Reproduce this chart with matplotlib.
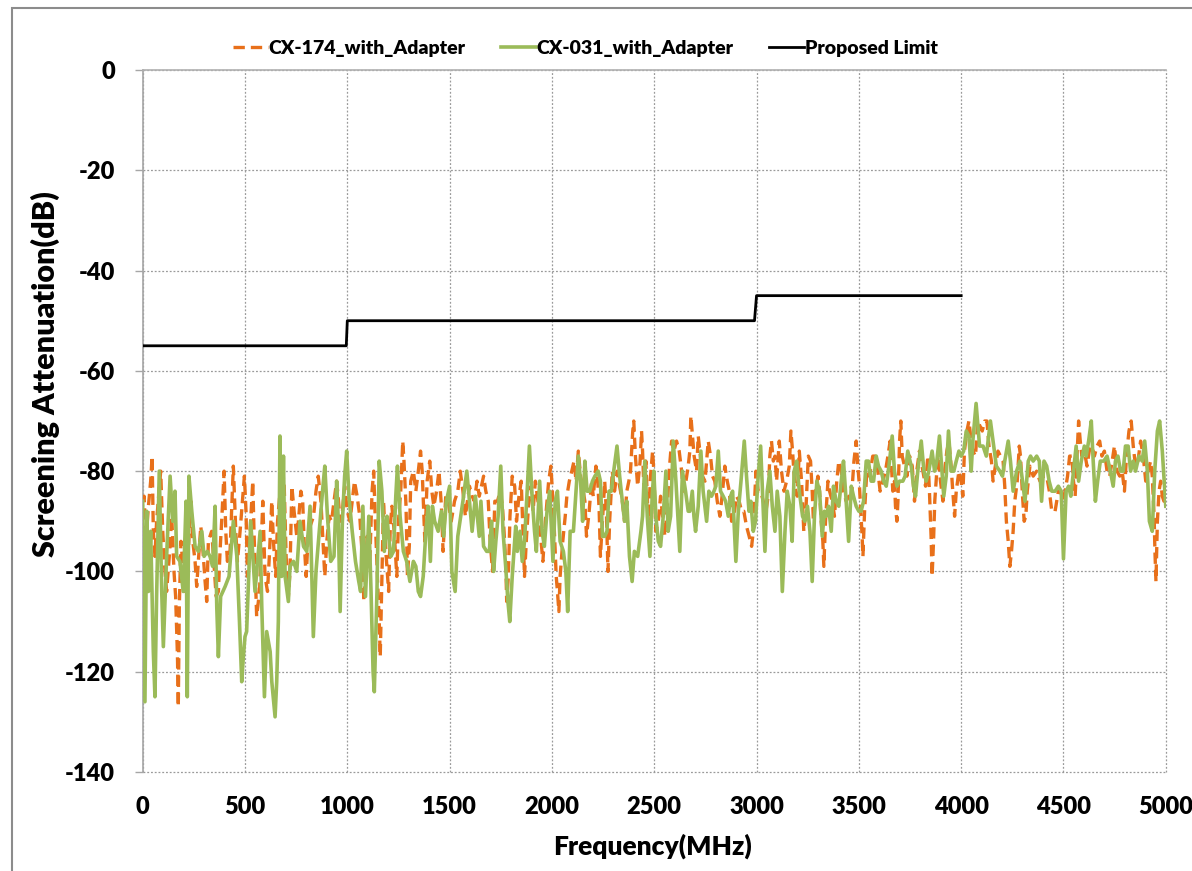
import matplotlib
matplotlib.use("Agg")
import matplotlib.pyplot as plt
from matplotlib.patches import Rectangle

plt.rcParams['font.family'] = ['Lato', 'DejaVu Sans']
plt.rcParams['font.weight'] = 'bold'
plt.rcParams['axes.unicode_minus'] = False

# CX-174_with_Adapter (orange dashed)
cx174_freq = [0, 7, 16, 28, 39, 46, 52, 60, 68, 88, 98, 109, 117, 130, 142, 153, 161, 170, 174, 179,
              187, 199, 207, 223, 235, 245, 256, 264, 272, 284, 293, 305, 313, 321, 337, 346, 359, 370,
              378, 386, 398, 406, 414, 427, 443, 456, 463, 476, 497, 505, 512, 525, 538, 544, 557, 571,
              587, 598, 610, 619, 631, 639, 650, 659, 680, 691, 701, 712, 720, 729, 740, 753, 761, 773,
              782, 789, 799, 810,
              835, 847, 858, 871, 884, 890, 900, 911, 923, 935, 948, 955, 965, 976, 987, 1000, 1013,
              1024, 1035, 1048, 1061, 1073, 1081, 1089, 1097, 1110, 1121, 1129, 1137, 1148, 1156, 1161,
              1169, 1177, 1190, 1202, 1210, 1218, 1229, 1242, 1250, 1261, 1271, 1277, 1287, 1294, 1303,
              1310, 1323, 1335, 1347, 1358, 1366, 1379, 1390, 1403, 1413, 1423, 1436, 1448, 1460, 1468,
              1481, 1497, 1508, 1524, 1540, 1552, 1565, 1577, 1597, 1610, 1621,
              1634, 1645, 1666, 1677, 1689, 1698, 1710, 1721, 1734, 1747, 1758, 1766, 1774, 1779, 1787,
              1795, 1806, 1818, 1827, 1839, 1850, 1860, 1866, 1876, 1887, 1898, 1908, 1919, 1935, 1947,
              1956, 1968, 1984, 1995, 2008, 2021, 2027, 2034, 2040, 2053, 2065, 2073, 2085, 2097, 2108,
              2118, 2129, 2140, 2153, 2161, 2169, 2182, 2194, 2202, 2215, 2223, 2231, 2237, 2247, 2258,
              2266, 2274, 2282, 2295, 2306, 2319, 2331, 2344, 2355, 2366, 2376, 2384, 2395, 2400, 2408,
              2419, 2431,
              2438, 2443, 2450, 2459, 2471, 2482, 2492, 2498, 2508, 2520, 2531, 2541, 2552, 2564, 2573,
              2585, 2596, 2609, 2622, 2634, 2642, 2655, 2666, 2674, 2679, 2687, 2695, 2707, 2715, 2723,
              2736, 2748, 2756, 2764, 2775, 2785, 2796, 2808, 2821, 2834, 2845, 2857, 2867, 2878, 2889,
              2902, 2915, 2927, 2938, 2951, 2964, 2976, 2984, 2997, 3008, 3020, 3033, 3046, 3057, 3065,
              3073, 3082, 3090, 3098, 3111, 3122, 3134, 3147, 3160, 3168, 3176, 3187, 3199, 3209, 3220,
              3231, 3241, 3253,
              3264, 3272, 3278, 3288, 3300, 3308, 3316, 3324, 3329, 3337, 3349, 3357, 3370, 3381, 3392,
              3402, 3414, 3425, 3438, 3451, 3463, 3476, 3487, 3495, 3503, 3511, 3516, 3520, 3528, 3539,
              3552, 3568, 3581, 3593, 3604, 3617, 3630, 3642, 3653, 3666, 3674, 3679, 3686, 3691, 3699,
              3705, 3712, 3723, 3735, 3748, 3761, 3772, 3783, 3796, 3813, 3826, 3837, 3845, 3853, 3858,
              3865, 3871, 3886, 3899, 3911, 3919, 3930, 3940, 3951, 3959, 3968, 3976, 3989, 4000, 4008,
              4016, 4028, 4038, 4049, 4057, 4070, 4081,
              4103, 4115, 4126, 4136, 4148, 4156, 4167, 4180, 4192, 4205, 4213, 4221, 4230, 4238, 4246,
              4254, 4262, 4274, 4284, 4290, 4300, 4308, 4316, 4323, 4336, 4352, 4369, 4385, 4402, 4418,
              4431, 4443, 4459, 4475, 4487, 4497, 4508, 4520, 4530, 4541, 4549, 4557, 4566, 4574, 4582,
              4590, 4602, 4615, 4626, 4639, 4651, 4664, 4677, 4688, 4700, 4713, 4726, 4738, 4749, 4762,
              4775, 4787, 4798, 4808, 4820, 4831, 4841, 4852, 4864, 4877, 4890, 4902, 4913, 4926, 4934,
              4943, 4947, 4952, 4959, 4967, 4975, 4983, 4991, 5000]
cx174_db = [-86, -85, -94, -87, -82, -77, -92, -97, -90, -80, -92, -100, -104, -97, -89, -100, -105, -117, -127, -107,
            -94, -100, -104, -96, -86, -94, -98, -103, -98, -91, -95, -102, -106, -94, -92, -97, -105, -104,
            -96, -90, -80, -92, -98, -96, -79, -93, -98, -92, -81, -88, -101, -92, -82, -92, -109, -104,
            -86, -101, -104, -97, -86, -94, -101, -90, -80, -82, -97, -105, -100, -83, -88, -93, -90, -84,
            -86, -94, -101, -92,
            -89, -84, -81, -86, -96, -101, -94, -89, -90, -86, -82, -85, -90, -88, -83, -88, -90,
            -86, -82, -85, -89, -97, -106, -100, -93, -98, -84, -80, -90, -102, -110, -117,
            -101, -86, -97, -104, -91, -87, -92, -101, -90, -84, -74, -78, -87, -101, -95,
            -82, -80, -84, -80, -76, -80, -94, -82, -78, -84, -87, -84, -80, -87, -96,
            -85, -87, -90, -86, -84, -80, -84, -89, -83, -85, -86,
            -82, -85, -81, -84, -86, -94, -100, -86, -86, -84, -87, -92, -98, -106, -101,
            -89, -81, -83, -90, -85, -82, -94, -101, -93, -86, -83, -88, -82, -87, -94,
            -98, -90, -82, -79, -88, -101, -104, -108, -101, -94, -89, -85, -82, -80, -78,
            -82, -76, -81, -84, -86, -93, -88, -82, -85, -79, -81, -88, -97, -90, -82,
            -88, -100, -90, -80, -84, -80, -83, -86, -90, -84, -82, -80, -72, -70, -77,
            -83, -78,
            -72, -76, -84, -78, -90, -81, -76, -80, -92, -90, -85, -89, -93, -87, -80,
            -74, -76, -74, -76, -80, -84, -82, -79, -76, -69, -73, -77, -80, -73, -76,
            -81, -82, -78, -74, -77, -81, -82, -86, -89, -84, -79, -82, -84, -90, -89,
            -85, -86, -88, -88, -91, -93, -95, -92, -80, -84, -84, -86, -88, -85, -77,
            -74, -78, -77, -82, -74, -80, -84, -82, -79, -72, -76, -83, -85, -76, -82,
            -92, -88, -77,
            -78, -84, -90, -84, -81, -84, -90, -94, -99, -90, -82, -84, -86, -89, -82,
            -78, -80, -84, -86, -85, -86, -78, -74, -79, -83, -89, -93, -97, -88, -80,
            -81, -77, -77, -80, -84, -82, -80, -77, -74, -84, -82, -87, -90, -86, -74,
            -70, -77, -79, -81, -77, -79, -86, -80, -76, -80, -83, -77, -84, -93, -101,
            -94, -86, -77, -82, -86, -80, -76, -74, -79, -84, -89, -84, -80, -82, -85,
            -76, -72, -70, -74, -76, -77, -70,
            -72, -70, -70, -75, -78, -82, -79, -76, -77, -78, -83, -90, -94, -99, -96,
            -92, -86, -82, -75, -77, -85, -90, -89, -84, -79, -81, -80, -82, -81, -81,
            -84, -88, -88, -84, -84, -86, -84, -81, -77, -77, -82, -85, -77, -70, -74,
            -77, -76, -79, -76, -75, -77, -75, -74, -77, -76, -80, -81, -78, -75, -80,
            -81, -80, -84, -77, -72, -70, -75, -79, -78, -74, -77, -82, -80, -78, -81,
            -89, -96, -102, -90, -84, -82, -85, -86, -84]

# CX-031_with_Adapter (green solid)
cx031_freq = [0, 11, 20, 28, 39, 52, 60, 68, 81, 93, 101, 117, 134, 147, 158, 166, 182, 198, 212, 218,
              226, 240, 256, 272, 289, 300, 316, 329, 342, 354, 362, 370, 381, 403, 422, 443, 460, 473,
              484, 492, 500, 508, 528, 549, 574, 582, 595, 606, 623, 631, 647, 655, 663, 671, 679, 688,
              696, 712, 720, 737, 753, 769, 786, 802, 818,
              834, 847, 863, 879, 890, 903, 919, 935, 948, 956, 965, 976, 987, 997, 1008, 1024, 1040,
              1056, 1065, 1076, 1089, 1105, 1116, 1126, 1132, 1145, 1156, 1169, 1181, 1194, 1202, 1213,
              1226, 1237, 1245, 1258, 1274, 1290, 1306, 1323, 1335, 1347, 1358, 1371, 1384, 1395, 1406,
              1416, 1427, 1444, 1460, 1471, 1484, 1500, 1511, 1527, 1540, 1565, 1584, 1597, 1610, 1626,
              1645,
              1653, 1666, 1681, 1694, 1705, 1715, 1726, 1737, 1750, 1761, 1774, 1785, 1794, 1806, 1823,
              1831, 1844, 1855, 1866, 1879, 1890, 1903, 1915, 1924, 1940, 1952, 1963, 1976, 1989, 2005,
              2016, 2027, 2040, 2056, 2068, 2077, 2089, 2105, 2118, 2129, 2140, 2150, 2161, 2172, 2185,
              2198, 2210, 2226, 2237, 2247, 2258, 2269, 2279, 2290, 2302, 2318, 2331, 2344, 2355, 2366,
              2379, 2392, 2403, 2419, 2435,
              2443, 2454, 2466, 2479, 2490, 2498, 2508, 2520, 2531, 2544, 2557, 2568, 2580, 2593, 2606,
              2617, 2625, 2638, 2653, 2666, 2674, 2686, 2694, 2702, 2715, 2728, 2739, 2756, 2767, 2780,
              2792, 2801, 2813, 2824, 2837, 2849, 2862, 2873, 2883, 2899, 2911, 2924, 2940, 2951, 2963,
              2972, 2984, 2995, 3008, 3020, 3029, 3041, 3052, 3065, 3077, 3090, 3101, 3114, 3126, 3139,
              3150, 3163, 3174, 3184, 3196, 3209, 3225, 3236, 3249, 3261,
              3272, 3283, 3295, 3308, 3321, 3332, 3340, 3352, 3365, 3376, 3389, 3402, 3414, 3425, 3438,
              3450, 3463, 3474, 3487, 3500, 3511, 3523, 3536, 3547, 3560, 3572, 3585, 3596, 3609, 3621,
              3634, 3650, 3663, 3674, 3686, 3699, 3715, 3726, 3739, 3756, 3767, 3777, 3788, 3805, 3818,
              3829, 3842, 3858, 3870, 3881, 3894, 3906, 3915, 3927, 3938, 3951, 3964, 3976, 3989, 4000,
              4012, 4025, 4038, 4049, 4057, 4073,
              4090, 4107, 4123, 4143, 4156, 4172, 4189, 4202, 4213, 4230, 4241, 4254, 4271, 4287, 4300,
              4312, 4328, 4339, 4352, 4369, 4382, 4393, 4405, 4418, 4430, 4443, 4459, 4475, 4489, 4500,
              4513, 4525, 4536, 4549, 4562, 4574, 4587, 4602, 4611, 4623, 4636, 4644, 4656, 4667, 4680,
              4697, 4713, 4729, 4743, 4754, 4766, 4779, 4792, 4803, 4816, 4828, 4841, 4852, 4869, 4885,
              4897, 4910, 4920, 4934, 4946, 4959, 4970, 4983, 4995, 5000]
cx031_db = [-86, -126, -88, -104, -92, -116, -125, -105, -80, -104, -115, -97, -81, -90, -84, -97, -98, -104, -86, -125,
            -81, -88, -95, -96, -92, -97, -96, -97, -99, -87, -107, -117, -105, -103, -101, -90, -97, -110,
            -122, -117, -113, -112, -90, -104, -92, -107, -125, -112, -116, -122, -129, -122, -110, -73, -101, -77,
            -101, -106, -99, -98, -100, -90, -95, -96, -87,
            -113, -100, -92, -84, -79, -89, -98, -97, -82, -90, -108, -90, -81, -76, -85, -92, -98,
            -102, -104, -87, -105, -89, -104, -120, -124, -104, -78, -84, -96, -89, -93, -97,
            -96, -85, -79, -89, -96, -98, -102, -98, -99, -104, -105, -101, -92, -87, -98,
            -87, -90, -92, -88, -93, -86, -83, -100, -104, -93, -86, -80, -86, -92, -85,
            -93,
            -86, -95, -96, -96, -90, -100, -94, -89, -79, -92, -99, -106, -110, -101, -91,
            -96, -92, -98, -94, -84, -75, -85, -92, -96, -82, -92, -95, -88, -84, -98,
            -86, -84, -94, -96, -100, -108, -92, -92, -84, -77, -82, -90, -78, -84, -84,
            -82, -81, -80, -82, -93, -93, -92, -84, -84, -80, -75, -81, -86, -90, -86,
            -97, -102, -96, -97, -92,
            -89, -78, -89, -97, -85, -80, -89, -94, -95, -89, -80, -92, -89, -74, -82,
            -90, -96, -80, -84, -88, -88, -84, -89, -92, -87, -76, -84, -90, -84, -85,
            -84, -83, -76, -84, -85, -86, -89, -85, -84, -98, -88, -82, -74, -81, -88,
            -86, -92, -90, -81, -75, -84, -96, -84, -80, -87, -92, -84, -89, -104, -92,
            -84, -87, -94, -80, -78, -84, -89, -90, -87, -92,
            -102, -89, -82, -84, -93, -88, -89, -87, -92, -83, -86, -87, -82, -78, -86,
            -94, -83, -85, -87, -88, -88, -86, -78, -78, -82, -82, -77, -79, -80, -82,
            -83, -78, -73, -80, -83, -82, -82, -81, -76, -79, -83, -85, -80, -74, -80,
            -82, -80, -76, -80, -78, -73, -80, -85, -81, -72, -80, -80, -78, -76, -77,
            -76, -72, -73, -80, -74, -66.5,
            -75, -75, -77, -70, -74, -79, -80, -81, -78, -74, -78, -84, -80, -78, -82,
            -86, -78, -77, -78, -77, -78, -86, -78, -79, -82, -84, -84, -83, -84, -97.5,
            -84, -83, -85, -80, -75, -82, -78, -75, -77, -74, -70, -77, -86, -82, -78,
            -78, -77, -80, -83, -78, -77, -80, -80, -75, -75, -80, -78, -80, -77, -78,
            -74, -80, -90, -92, -80, -72, -70, -76, -84, -87]

# Proposed Limit (step)
limit_freq = [0, 995, 1000, 2990, 3000, 4000]
limit_db = [-55, -55, -50, -50, -45, -45]

x_ticks = list(range(0, 5001, 500))
y_ticks = list(range(-140, 1, 20))

fig = plt.figure(figsize=(11.92, 8.71), dpi=100)
ax = fig.add_axes([0.1197, 0.1137, 0.8583, 0.8059])

ax.plot(cx174_freq, cx174_db, color='#E8701A', lw=2.4, ls=(0, (3.4, 1.8)),
        label='CX-174_with_Adapter', zorder=3)
ax.plot(cx031_freq, cx031_db, color='#9BBB59', lw=2.6, label='CX-031_with_Adapter', zorder=4)
ax.plot(limit_freq, limit_db, color='black', lw=2.0, label='Proposed Limit', zorder=5)

ax.set_xlim(0, 5000)
ax.set_ylim(-140, 0)
ax.set_xticks(x_ticks)
ax.set_yticks(y_ticks)
ax.grid(True, color='#9a9a9a', ls=(0, (1.5, 1.5)), lw=0.9, clip_on=False)
ax.set_axisbelow(True)

for s in ['right', 'bottom']:
    ax.spines[s].set_visible(False)
ax.spines['left'].set_color('#a6a6a6')
ax.spines['top'].set_color('#b0b0b0')
ax.spines['left'].set_linewidth(1.2)
ax.spines['top'].set_linewidth(1.2)

ax.tick_params(axis='x', length=0, pad=17, labelsize=17)
ax.tick_params(axis='y', length=6, width=1, color='#a6a6a6', pad=14, labelsize=17)
for lab in ax.get_xticklabels() + ax.get_yticklabels():
    lab.set_fontweight('heavy')

fig.text(0.0378, 0.5706, 'Screening Attenuation(dB)', rotation=90, ha='center', va='center',
         fontsize=22, fontweight='heavy')
fig.text(0.547, 0.0287, 'Frequency(MHz)', ha='center', va='center', fontsize=19, fontweight='heavy')

leg = ax.legend(loc='center', bbox_to_anchor=(0.491, 0.944), bbox_transform=fig.transFigure,
                ncol=3, frameon=False, handlelength=1.8, handletextpad=0.05,
                columnspacing=1.8, prop={'weight': 'heavy', 'size': 14})

fig.patches.append(Rectangle((12 / 1192, -0.1), 1.2, 1.1 - 8 / 871, transform=fig.transFigure,
                             fill=False, edgecolor='#8c8c8c', lw=1.5))

fig.savefig('out.png', dpi=100)
